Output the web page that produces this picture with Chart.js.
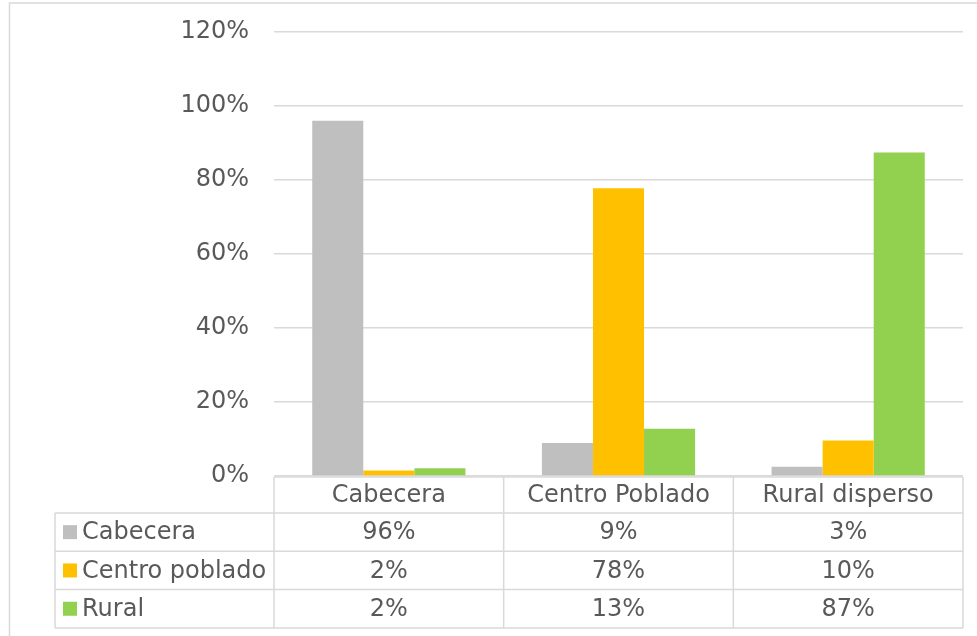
<!DOCTYPE html>
<html>
<head>
<meta charset="utf-8">
<script src="https://cdn.jsdelivr.net/npm/chart.js@4.4.1/dist/chart.umd.min.js"></script>
<style>
    html, body { margin: 0; padding: 0; background: #ffffff; }
    #wrap { width: 977px; height: 636px; position: relative; }
</style>
</head>
<body>
<div id="wrap"><canvas id="zona-chart" width="977" height="636"></canvas></div>
<script>
// Categories (x axis / table columns)
const categories = ['Cabecera', 'Centro Poblado', 'Rural disperso'];

// Series (table rows), values in %
const seriesNames = ['Cabecera', 'Centro poblado', 'Rural'];
const cabeceraValues = [96.0, 8.9, 2.5];
const centroPobladoValues = [1.5, 77.8, 9.6];
const ruralValues = [2.1, 12.8, 87.4];

// Y axis ticks
const yTicks = [0, 20, 40, 60, 80, 100, 120];

const seriesColors = ['#bfbfbf', '#ffc000', '#92d050'];
const seriesValues = [cabeceraValues, centroPobladoValues, ruralValues];

const FONT = 'DejaVu Sans';
const FONT_SIZE = 24;
const TEXT_COLOR = '#595959';
const LINE_COLOR = '#d9d9d9';

/**
 * Draws the outer frame and the Excel-style data table under the plot
 */
const dataTablePlugin = {
    id: 'dataTable',
    beforeDraw(chart) {
        const ctx = chart.ctx;
        ctx.save();
        ctx.strokeStyle = LINE_COLOR;
        ctx.lineWidth = 1.5;
        ctx.strokeRect(9.5, 3, 1200, 1000);
        ctx.restore();
    },
    afterDraw(chart) {
        const ctx = chart.ctx;
        const area = chart.chartArea;
        const xScale = chart.scales.x;
        const colW = (area.right - area.left) / categories.length;
        const tableLeft = 55;
        const headerTop = area.bottom + 1;
        const headerH = 36;
        const rowH = 38.3;
        const tableBottom = headerTop + headerH + rowH * seriesNames.length;

        ctx.save();
        ctx.strokeStyle = LINE_COLOR;
        ctx.lineWidth = 1.5;
        ctx.beginPath();
        // header top line (only over the category columns)
        ctx.moveTo(area.left, headerTop);
        ctx.lineTo(area.right, headerTop);
        // horizontal row lines
        for (let r = 0; r <= seriesNames.length; r++) {
            const y = headerTop + headerH + r * rowH;
            ctx.moveTo(tableLeft, y);
            ctx.lineTo(area.right, y);
        }
        // vertical lines
        for (let c = 0; c <= categories.length; c++) {
            const x = area.left + c * colW;
            ctx.moveTo(x, headerTop);
            ctx.lineTo(x, tableBottom);
        }
        ctx.moveTo(tableLeft, headerTop + headerH);
        ctx.lineTo(tableLeft, tableBottom);
        ctx.stroke();

        ctx.font = `${FONT_SIZE}px "${FONT}"`;
        ctx.fillStyle = TEXT_COLOR;
        ctx.textBaseline = 'middle';
        ctx.textAlign = 'center';

        // category header labels
        categories.forEach((cat, i) => {
            ctx.fillText(cat, xScale.getPixelForValue(i), headerTop + headerH / 2 + 1);
        });

        // series rows
        seriesNames.forEach((name, r) => {
            const cy = headerTop + headerH + r * rowH + rowH / 2 + 1;
            ctx.fillStyle = seriesColors[r];
            ctx.fillRect(63, cy - 8, 14, 14);
            ctx.fillStyle = TEXT_COLOR;
            ctx.textAlign = 'left';
            ctx.fillText(name, 82, cy);
            ctx.textAlign = 'center';
            seriesValues[r].forEach((v, i) => {
                ctx.fillText(Math.round(v) + '%', xScale.getPixelForValue(i), cy);
            });
        });
        ctx.restore();
    }
};

const ctx = document.getElementById('zona-chart').getContext('2d');
new Chart(ctx, {
    type: 'bar',
    data: {
        labels: categories,
        datasets: seriesNames.map((name, i) => ({
            label: name,
            data: seriesValues[i],
            backgroundColor: seriesColors[i],
            borderWidth: 0,
            barPercentage: 1.0,
            categoryPercentage: 0.667
        }))
    },
    plugins: [dataTablePlugin],
    options: {
        responsive: false,
        animation: false,
        devicePixelRatio: 1,
        layout: {
            padding: { left: 0, right: 14, top: 32, bottom: 160 }
        },
        plugins: {
            legend: { display: false },
            tooltip: { enabled: false }
        },
        scales: {
            x: {
                display: false
            },
            y: {
                min: yTicks[0],
                max: yTicks[yTicks.length - 1],
                afterBuildTicks(scale) {
                    scale.ticks = yTicks.map(v => ({ value: v }));
                },
                afterFit(scale) {
                    scale.width = 274;
                },
                grid: {
                    color: LINE_COLOR,
                    lineWidth: 1.5,
                    drawTicks: true,
                    tickLength: 22,
                    tickColor: 'rgba(0,0,0,0)'
                },
                border: { display: false },
                ticks: {
                    color: TEXT_COLOR,
                    font: { family: FONT, size: FONT_SIZE },
                    padding: 3,
                    callback: function(value) { return value + '%'; }
                }
            }
        }
    }
});
</script>
</body>
</html>
